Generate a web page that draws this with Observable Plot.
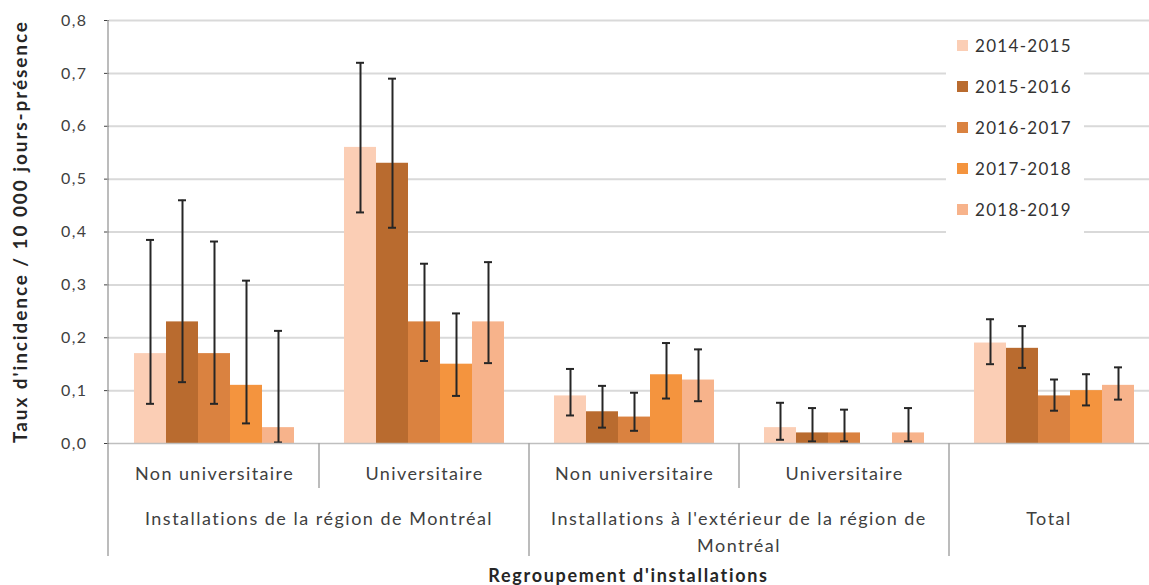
<!DOCTYPE html>
<html>
<head>
<meta charset="utf-8">
<script src="https://cdn.jsdelivr.net/npm/d3@7"></script>
<script src="https://cdn.jsdelivr.net/npm/@observablehq/plot@0.6"></script>
<style>
  html, body { margin: 0; padding: 0; background: white; overflow: hidden; }
  #wrap { position: relative; width: 1149px; height: 585px; overflow: hidden; }
  #wrap svg { max-width: none !important; }
  #legend { position: absolute; left: 946px; top: 24px; width: 138px; height: 210px; background: white;
            font-family: Lato, sans-serif; font-size: 17px; letter-spacing: 1.3px; color: #333; }
  #legend .item { position: absolute; left: 11px; display: flex; align-items: center; }
  #legend .sw { width: 11px; height: 11px; margin-right: 7px; }
  g[aria-label^="fx-axis"] text { font-size: 18px; }
</style>
</head>
<body>
<div id="wrap"><div id="legend"></div></div>
<script>
// ---- data ----
const years = ["2014-2015", "2015-2016", "2016-2017", "2017-2018", "2018-2019"];
const yearColors = ["#fbceb5", "#b96b2f", "#da8240", "#f4943e", "#f7b38b"];
const catKeys = ["mtl-nu", "mtl-u", "ext-nu", "ext-u", "total"];
const catLabels = ["Non universitaire", "Universitaire", "Non universitaire", "Universitaire", ""];
const groupLabels = ["Installations de la région de Montréal", "Installations à l'extérieur de la région de\nMontréal", "Total"];
const groupCats = [["mtl-nu", "mtl-u"], ["ext-nu", "ext-u"], ["total"]];
const yTicks = [0, 0.1, 0.2, 0.3, 0.4, 0.5, 0.6, 0.7, 0.8];

const mtlNonUniv = [0.17, 0.23, 0.17, 0.11, 0.03];
const mtlNonUnivLo = [0.075, 0.116, 0.075, 0.038, 0.002];
const mtlNonUnivHi = [0.385, 0.46, 0.382, 0.308, 0.213];
const mtlUniv = [0.56, 0.53, 0.23, 0.15, 0.23];
const mtlUnivLo = [0.437, 0.408, 0.156, 0.09, 0.152];
const mtlUnivHi = [0.72, 0.69, 0.34, 0.246, 0.343];
const extNonUniv = [0.09, 0.06, 0.05, 0.13, 0.12];
const extNonUnivLo = [0.053, 0.03, 0.024, 0.085, 0.08];
const extNonUnivHi = [0.141, 0.109, 0.096, 0.19, 0.178];
const extUniv = [0.03, 0.02, 0.02, null, 0.02];
const extUnivLo = [0.007, 0.004, 0.004, null, 0.004];
const extUnivHi = [0.077, 0.067, 0.064, null, 0.067];
const total = [0.19, 0.18, 0.09, 0.10, 0.11];
const totalLo = [0.15, 0.143, 0.062, 0.072, 0.083];
const totalHi = [0.235, 0.222, 0.121, 0.131, 0.144];

const series = [
  [mtlNonUniv, mtlNonUnivLo, mtlNonUnivHi],
  [mtlUniv, mtlUnivLo, mtlUnivHi],
  [extNonUniv, extNonUnivLo, extNonUnivHi],
  [extUniv, extUnivLo, extUnivHi],
  [total, totalLo, totalHi]
];
const data = [];
catKeys.forEach((cat, i) => {
  const [v, lo, hi] = series[i];
  years.forEach((year, j) => {
    if (v[j] != null) data.push({cat, year, value: v[j], lo: lo[j], hi: hi[j]});
  });
});

// ---- chart ----
const W = 1160, H = 585, ML = 108, MT = 20, MB = 142;
const fmt = d => d.toFixed(1).replace(".", ",");
const errStroke = "#262626";

const plot = Plot.plot({
  width: W, height: H,
  marginLeft: ML, marginRight: 0, marginTop: MT, marginBottom: MB,
  style: {fontFamily: "Lato, sans-serif", fontSize: "16px", letterSpacing: "1.4px", color: "#404040",
          background: "white", overflow: "visible", maxWidth: "none"},
  fx: {domain: catKeys, padding: 0, axis: "bottom", tickSize: 0, tickPadding: 24, label: null,
       tickFormat: k => catLabels[catKeys.indexOf(k)]},
  x: {domain: years, paddingInner: 0, paddingOuter: 0.76, axis: null},
  y: {domain: [0, 0.8], ticks: yTicks, tickFormat: fmt, tickSize: 5, tickPadding: 17, label: null},
  color: {domain: years, range: yearColors},
  marks: [
    Plot.ruleY(yTicks.slice(1), {stroke: "#d9d9d9", strokeWidth: 2}),
    Plot.barY(data, {fx: "cat", x: "year", y: "value", fill: "year"}),
    Plot.ruleX(data, {fx: "cat", x: "year", y1: "lo", y2: "hi", stroke: errStroke, strokeWidth: 2}),
    Plot.tickY(data, {fx: "cat", x: "year", y: "hi", insetLeft: 12, insetRight: 12, stroke: errStroke, strokeWidth: 2}),
    Plot.tickY(data, {fx: "cat", x: "year", y: "lo", insetLeft: 12, insetRight: 12, stroke: errStroke, strokeWidth: 2}),
    Plot.ruleY([0], {stroke: "#bfbfbf", strokeWidth: 1.5})
  ]
});

document.getElementById("wrap").appendChild(plot);

// ---- hierarchical x labels, axis lines, titles ----
const fxs = plot.scale("fx");
const bw = fxs.bandwidth != null ? fxs.bandwidth : (W - ML) / catKeys.length;
const left = k => fxs.apply(k);
const y0 = H - MB;
const svg = d3.select(plot);
const g = svg.append("g");
const lineColor = "#a6a6a6";

g.append("line").attr("x1", ML).attr("x2", ML).attr("y1", MT).attr("y2", 556)
  .attr("stroke", lineColor).attr("stroke-width", 1.5);
// dividers
const longAfter = ["mtl-u", "ext-u"];
catKeys.slice(0, 4).forEach(k => {
  const x = left(k) + bw;
  const long = longAfter.includes(k);
  g.append("line").attr("x1", x).attr("x2", x).attr("y1", y0).attr("y2", long ? 556 : 488)
    .attr("stroke", lineColor).attr("stroke-width", 1.5);
});
// group labels
groupLabels.forEach((lab, i) => {
  const cats = groupCats[i];
  const x1 = left(cats[0]), x2 = left(cats[cats.length - 1]) + bw;
  const cx = i === 2 ? (x1 + 1149) / 2 : (x1 + x2) / 2;
  const t = g.append("text").attr("x", cx).attr("y", 525).attr("text-anchor", "middle")
    .attr("fill", "#404040").style("font-size", "18px").style("letter-spacing", "1.5px");
  lab.split("\n").forEach((line, j) => {
    t.append("tspan").attr("x", cx).attr("dy", j === 0 ? 0 : 27).text(line);
  });
});
// axis titles
g.append("text").attr("x", (ML + 1149) / 2).attr("y", 582).attr("text-anchor", "middle")
  .attr("fill", "#262626").style("font-weight", "bold").style("font-size", "18px").style("letter-spacing", "1.7px")
  .text("Regroupement d'installations");
g.append("text").attr("transform", `translate(27,${(MT + y0) / 2}) rotate(-90)`).attr("text-anchor", "middle")
  .attr("fill", "#262626").style("font-weight", "bold").style("font-size", "19px").style("letter-spacing", "1.9px")
  .text("Taux d'incidence / 10 000 jours-présence");

// ---- legend ----
const legend = d3.select("#legend");
years.forEach((yr, i) => {
  const it = legend.append("div").attr("class", "item").style("top", `${11 + i * 41}px`);
  it.append("div").attr("class", "sw").style("background", yearColors[i]);
  it.append("span").text(yr);
});
</script>
</body>
</html>
